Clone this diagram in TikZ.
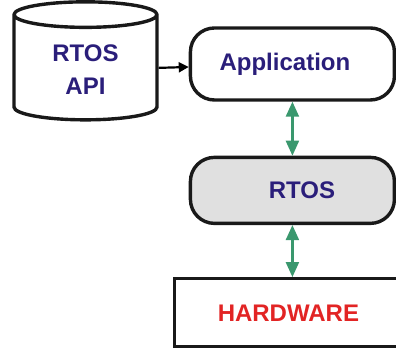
\documentclass[tikz,border=0pt]{standalone}
\usepackage{fontspec}
\setmainfont{Liberation Sans}
\usetikzlibrary{positioning,shapes.geometric,arrows.meta}

\definecolor{labelblue}{RGB}{42,30,122}
\definecolor{hwred}{RGB}{226,36,36}
\definecolor{linkgreen}{RGB}{58,152,110}
\definecolor{kernelgray}{RGB}{224,224,224}

\tikzset{
	boxtext/.style={font=\fontsize{24}{33}\selectfont\bfseries, text=labelblue},
	layer/.style={boxtext, draw=black!90, line width=3.4pt, rounded corners=24pt,
		minimum width=204pt, minimum height=72pt},
	store/.style={boxtext, cylinder, shape border rotate=90, aspect=0.35, draw=black!90,
		line width=3.4pt, minimum width=143pt, minimum height=118pt, align=center},
	hwbox/.style={boxtext, text=hwred, draw=black!90, line width=3.4pt,
		minimum width=228pt, minimum height=68pt},
	link/.style={linkgreen, line width=2.2pt, {Triangle[length=15pt,width=13pt]}-{Triangle[length=15pt,width=13pt]}},
}

\begin{document}
\begin{tikzpicture}
	\useasboundingbox (0,0) rectangle (396pt,352pt);
	
	\node[store] (api) at (85.5pt,282pt) {RTOS\\API};
	\node[layer, right=30pt of api, yshift=6pt] (app) {Application\hspace*{15pt}};
	\node[layer, fill=kernelgray, below=54pt of app, minimum height=66pt] (rtos) {\hspace*{19pt}RTOS};
	\node[hwbox, anchor=north west] (hw) at ([xshift=-16pt,yshift=-52pt]rtos.south west) {HARDWARE};
	
	% links between the layers
	\draw[line width=2.2pt, -{Triangle[length=10pt,width=10pt]}] (api) -- (app);
	\draw[link] (app) -- (rtos);
	\draw[link] (rtos.south) -- (rtos.south |- hw.north);
\end{tikzpicture}
\end{document}
